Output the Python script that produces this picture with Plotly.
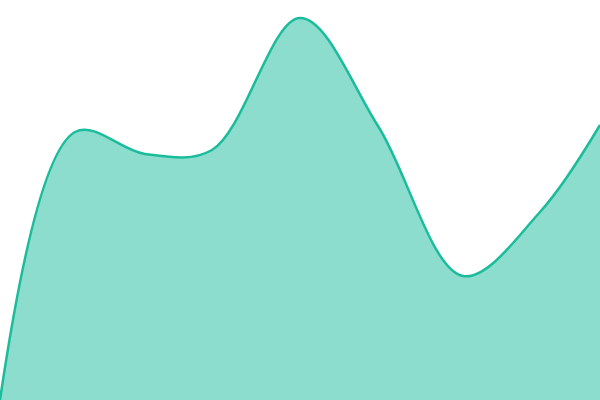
import plotly.graph_objects as go

# sample positions along the horizontal axis and the area heights at each
xs = [0, 75, 145, 212, 300, 378, 463, 540, 600]
heights = [0, 268, 246, 250, 382, 274, 124, 188, 275]

fig = go.Figure(
    go.Scatter(
        x=xs,
        y=heights,
        mode="lines",
        line=dict(color="#1abc9c", width=2.5, shape="spline", smoothing=1),
        fill="tozeroy",
        fillcolor="rgba(26,188,156,0.5)",
        hoverinfo="skip",
    )
)

fig.update_layout(
    width=600,
    height=400,
    margin=dict(l=0, r=0, t=0, b=0),
    paper_bgcolor="white",
    plot_bgcolor="white",
    showlegend=False,
    xaxis=dict(visible=False, range=[0, 600], fixedrange=True),
    yaxis=dict(visible=False, range=[0, 400], fixedrange=True),
)

# drop the default page margin so the chart sits flush in the window
fig.write_html(
    "out.html",
    config={"displayModeBar": False},
    post_script="document.body.style.margin='0';document.body.style.overflow='hidden';",
)
